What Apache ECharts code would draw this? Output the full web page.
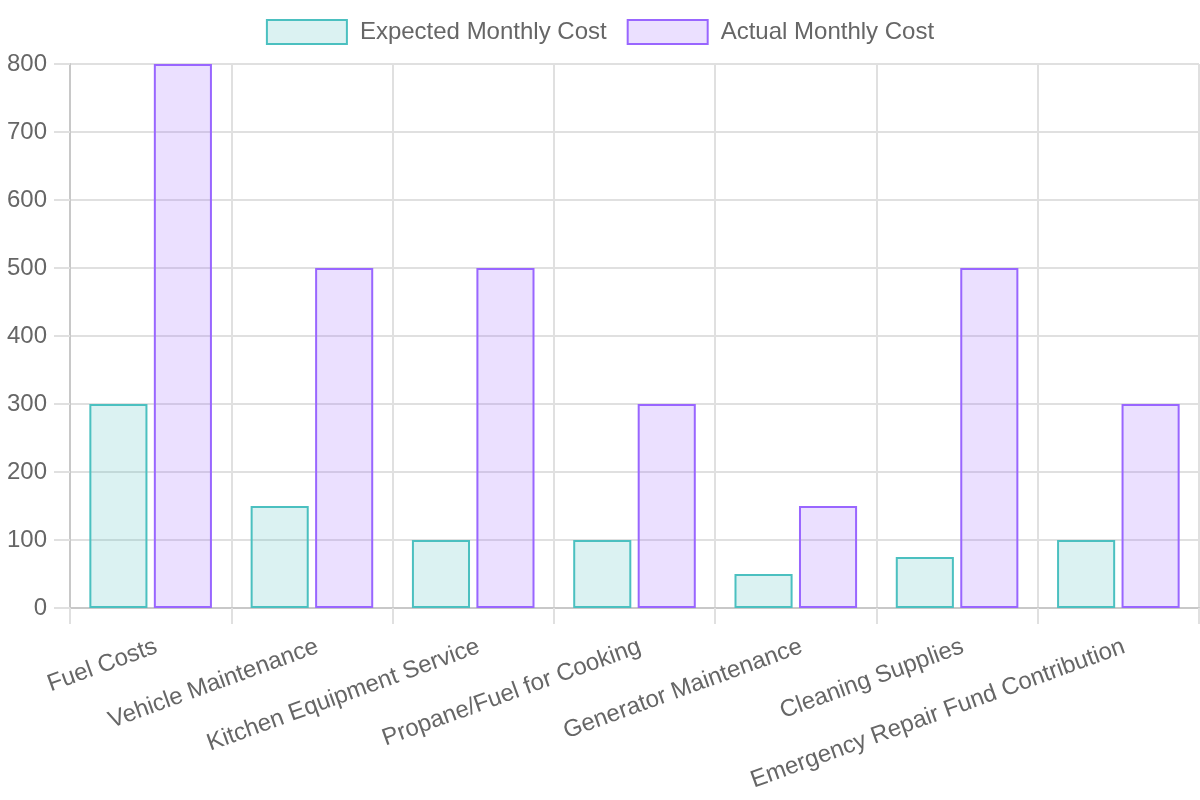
<!DOCTYPE html>
<html>
<head>
<meta charset="utf-8">
<script src="https://cdn.jsdelivr.net/npm/echarts@6/dist/echarts.min.js"></script>
<style>
html,body{margin:0;padding:0;background:#fff;}
#chart{width:1200px;height:800px;}
</style>
</head>
<body>
<div id="chart"></div>
<script>
const categories = ["Fuel Costs","Vehicle Maintenance","Kitchen Equipment Service","Propane/Fuel for Cooking","Generator Maintenance","Cleaning Supplies","Emergency Repair Fund Contribution"];
const expectedCost = [300,150,100,100,50,75,100];
const actualCost = [800,500,500,300,150,500,300];
const seriesNames = ["Expected Monthly Cost","Actual Monthly Cost"];
const yTicks = {min:0, max:800, interval:100};

const font = "'Liberation Sans', Arial, Helvetica, sans-serif";
const chart = echarts.init(document.getElementById('chart'), null, {renderer:'canvas'});
chart.setOption({
  animation:false,
  textStyle:{fontFamily:font},
  legend:{
    top:14, left:'center',
    itemWidth:80, itemHeight:24, itemGap:20,
    textStyle:{fontSize:24, color:'#666', fontFamily:font, padding:[0,0,0,8]},
    icon:'rect',
    data:seriesNames
  },
  grid:{left:70, right:1, top:64, bottom:192, containLabel:false},
  xAxis:{
    type:'category',
    data:categories,
    boundaryGap:true,
    axisLine:{show:true, lineStyle:{color:'#c8c8c8', width:2}},
    axisTick:{show:true, length:16, lineStyle:{color:'#e0e0e0', width:2}},
    splitLine:{show:true, lineStyle:{color:'#e0e0e0', width:2}},
    axisLabel:{rotate:20, fontSize:24, color:'#666', fontFamily:font, margin:40, interval:0, padding:[0,-6,0,0]}
  },
  yAxis:{
    type:'value',
    min:yTicks.min, max:yTicks.max, interval:yTicks.interval,
    axisLine:{show:true, lineStyle:{color:'#c8c8c8', width:2}},
    axisTick:{show:true, length:16, lineStyle:{color:'#e0e0e0', width:2}},
    splitLine:{show:true, lineStyle:{color:'#e0e0e0', width:2}},
    axisLabel:{fontSize:24, color:'#666', fontFamily:font, margin:23}
  },
  series:[
    {
      name:seriesNames[0], type:'bar', data:expectedCost,
      barGap:'11%', barCategoryGap:'24%',
      itemStyle:{color:'rgba(75,192,192,0.2)', borderColor:'rgb(75,192,192)', borderWidth:2}
    },
    {
      name:seriesNames[1], type:'bar', data:actualCost,
      barGap:'11%', barCategoryGap:'24%',
      itemStyle:{color:'rgba(153,102,255,0.2)', borderColor:'rgb(153,102,255)', borderWidth:2}
    }
  ]
});
</script>
</body>
</html>
